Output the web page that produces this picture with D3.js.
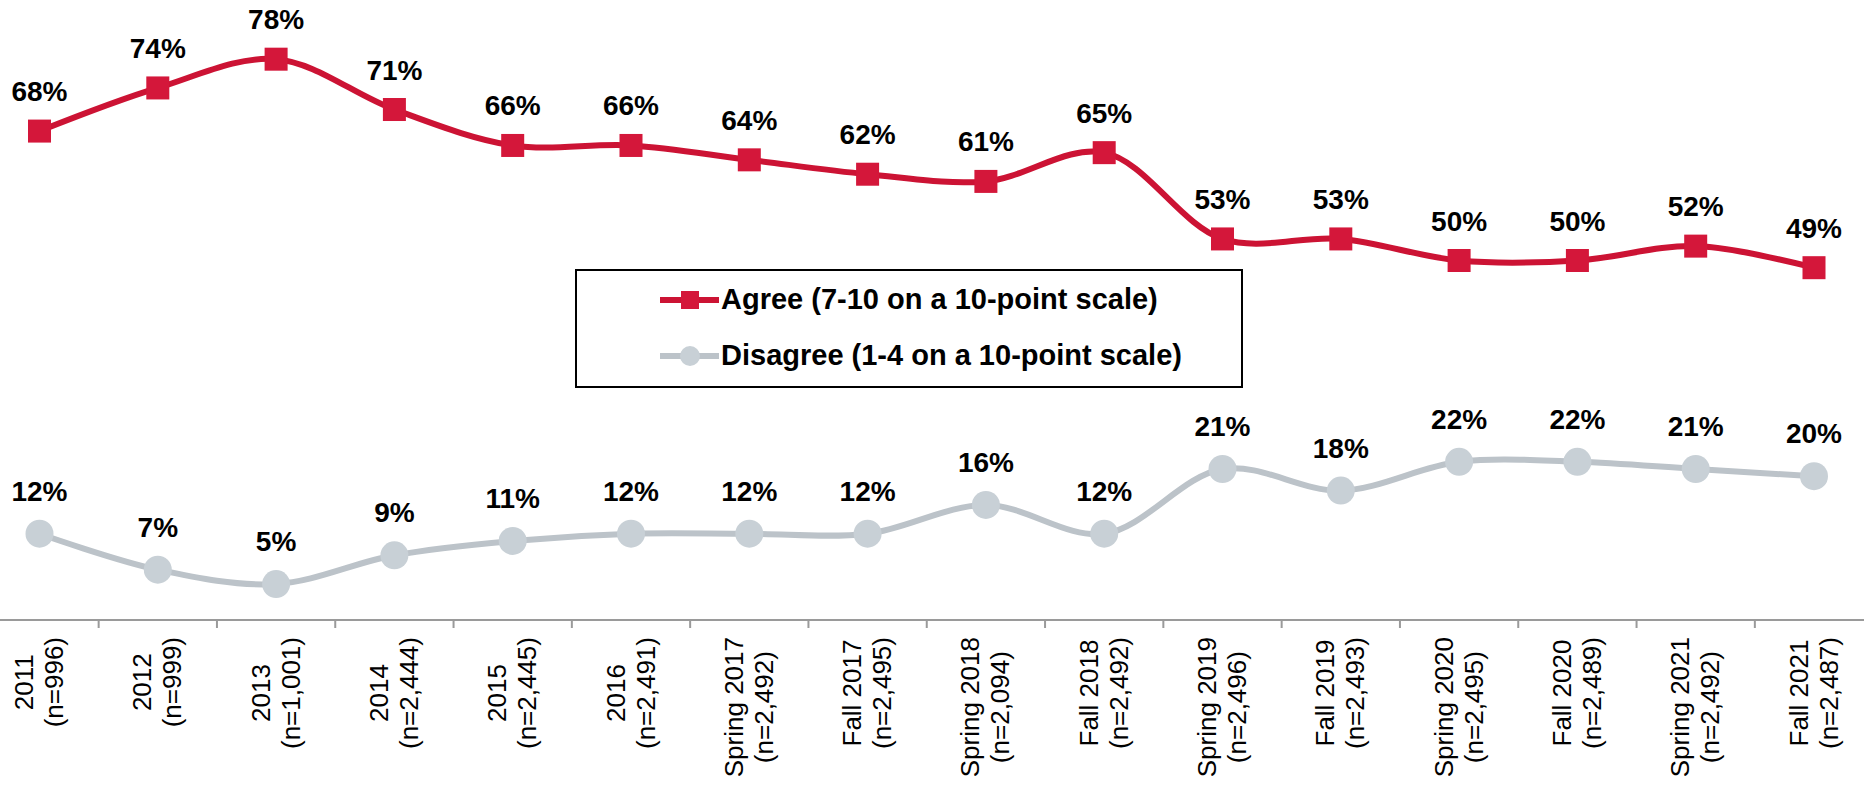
<html>
<head>
<meta charset="utf-8">
<style>
  body { margin: 0; background: #fff; }
  text { font-family: "Liberation Sans", Arial, sans-serif; }
</style>
</head>
<body>
<svg id="chart" width="1864" height="788"></svg>
<script src="https://d3js.org/d3.v7.min.js"></script>
<script>
// categories (two lines each)
var periods = ["2011", "2012", "2013", "2014", "2015", "2016", "Spring 2017", "Fall 2017",
               "Spring 2018", "Fall 2018", "Spring 2019", "Fall 2019", "Spring 2020", "Fall 2020",
               "Spring 2021", "Fall 2021"];
var samples = ["(n=996)", "(n=999)", "(n=1,001)", "(n=2,444)", "(n=2,445)", "(n=2,491)", "(n=2,492)", "(n=2,495)",
               "(n=2,094)", "(n=2,492)", "(n=2,496)", "(n=2,493)", "(n=2,495)", "(n=2,489)",
               "(n=2,492)", "(n=2,487)"];

// series values (%)
var agree    = [68, 74, 78, 71, 66, 66, 64, 62, 61, 65, 53, 53, 50, 50, 52, 49];
var disagree = [12, 7, 5, 9, 11, 12, 12, 12, 16, 12, 21, 18, 22, 22, 21, 20];

var legendLabels = ["Agree (7-10 on a 10-point scale)", "Disagree (1-4 on a 10-point scale)"];

var red = "#d4173a";
var redLine = "#cc1334";
var grey = "#c8d0d6";
var greyLine = "#bcc3c9";

var svg = d3.select("#chart");
svg.append("rect").attr("width", 1864).attr("height", 788).attr("fill", "#fff");

var x = d3.scalePoint().domain(periods).range([39.5, 1814]);
var y = d3.scaleLinear().domain([0, 100]).range([620, -99]);

//axis line + ticks between categories
var axisY = y(0);
svg.append("line")
    .attr("x1", 0).attr("x2", 1864)
    .attr("y1", axisY).attr("y2", axisY)
    .attr("stroke", "#9a9a9a").attr("stroke-width", 2);

var step = x.step();
var tickPos = periods.map(function(p) { return x(p) - step / 2; });
tickPos.push(x(periods[periods.length - 1]) + step / 2);
svg.selectAll(".tick")
    .data(tickPos)
    .enter().append("line")
    .attr("x1", function(d) { return d; }).attr("x2", function(d) { return d; })
    .attr("y1", axisY).attr("y2", axisY + 8)
    .attr("stroke", "#9a9a9a").attr("stroke-width", 2);

//category labels, rotated, lines centred in block, block top near axis
periods.forEach(function(p, i) {
    var g = svg.append("g")
        .attr("transform", "translate(" + x(p) + "," + (axisY + 17) + ") rotate(-90)");
    var t1 = g.append("text").attr("y", -6.5).attr("font-size", 26).attr("fill", "#000")
        .attr("text-anchor", "middle").text(p);
    var t2 = g.append("text").attr("y", 23.5).attr("font-size", 26).attr("fill", "#000")
        .attr("text-anchor", "middle").text(samples[i]);
    var w = Math.max(t1.node().getComputedTextLength(), t2.node().getComputedTextLength());
    t1.attr("x", -w / 2);
    t2.attr("x", -w / 2);
});

var line = d3.line()
    .x(function(d, i) { return x(periods[i]); })
    .y(function(d) { return y(d); })
    .curve(d3.curveCatmullRom.alpha(0.5));

// disagree series
svg.append("path")
    .attr("d", line(disagree))
    .attr("fill", "none").attr("stroke", greyLine).attr("stroke-width", 6);
svg.selectAll(".dis")
    .data(disagree)
    .enter().append("circle")
    .attr("cx", function(d, i) { return x(periods[i]); })
    .attr("cy", function(d) { return y(d); })
    .attr("r", 14)
    .attr("fill", grey);
svg.selectAll(".disLbl")
    .data(disagree)
    .enter().append("text")
    .attr("x", function(d, i) { return x(periods[i]); })
    .attr("y", function(d) { return y(d) - 33; })
    .attr("text-anchor", "middle")
    .attr("font-size", 28).attr("font-weight", "bold").attr("fill", "#000")
    .text(function(d) { return d + "%"; });

// agree series
svg.append("path")
    .attr("d", line(agree))
    .attr("fill", "none").attr("stroke", redLine).attr("stroke-width", 6);
svg.selectAll(".agr")
    .data(agree)
    .enter().append("rect")
    .attr("x", function(d, i) { return x(periods[i]) - 11.5; })
    .attr("y", function(d) { return y(d) - 11.5; })
    .attr("width", 23).attr("height", 23)
    .attr("fill", red);
svg.selectAll(".agrLbl")
    .data(agree)
    .enter().append("text")
    .attr("x", function(d, i) { return x(periods[i]); })
    .attr("y", function(d) { return y(d) - 30; })
    .attr("text-anchor", "middle")
    .attr("font-size", 28).attr("font-weight", "bold").attr("fill", "#000")
    .text(function(d) { return d + "%"; });

// legend
var lg = svg.append("g");
lg.append("rect")
    .attr("x", 576).attr("y", 270).attr("width", 666).attr("height", 117)
    .attr("fill", "#fff").attr("stroke", "#000").attr("stroke-width", 2);

lg.append("line").attr("x1", 660).attr("x2", 719).attr("y1", 300).attr("y2", 300)
    .attr("stroke", redLine).attr("stroke-width", 6);
lg.append("rect").attr("x", 681).attr("y", 291).attr("width", 18).attr("height", 18).attr("fill", red);
lg.append("text").attr("x", 721).attr("y", 309)
    .attr("font-size", 29).attr("font-weight", "bold").attr("fill", "#000")
    .text(legendLabels[0]);

lg.append("line").attr("x1", 660).attr("x2", 719).attr("y1", 356).attr("y2", 356)
    .attr("stroke", greyLine).attr("stroke-width", 6);
lg.append("circle").attr("cx", 690).attr("cy", 356).attr("r", 10).attr("fill", grey);
lg.append("text").attr("x", 721).attr("y", 365)
    .attr("font-size", 29).attr("font-weight", "bold").attr("fill", "#000")
    .text(legendLabels[1]);
</script>
</body>
</html>
